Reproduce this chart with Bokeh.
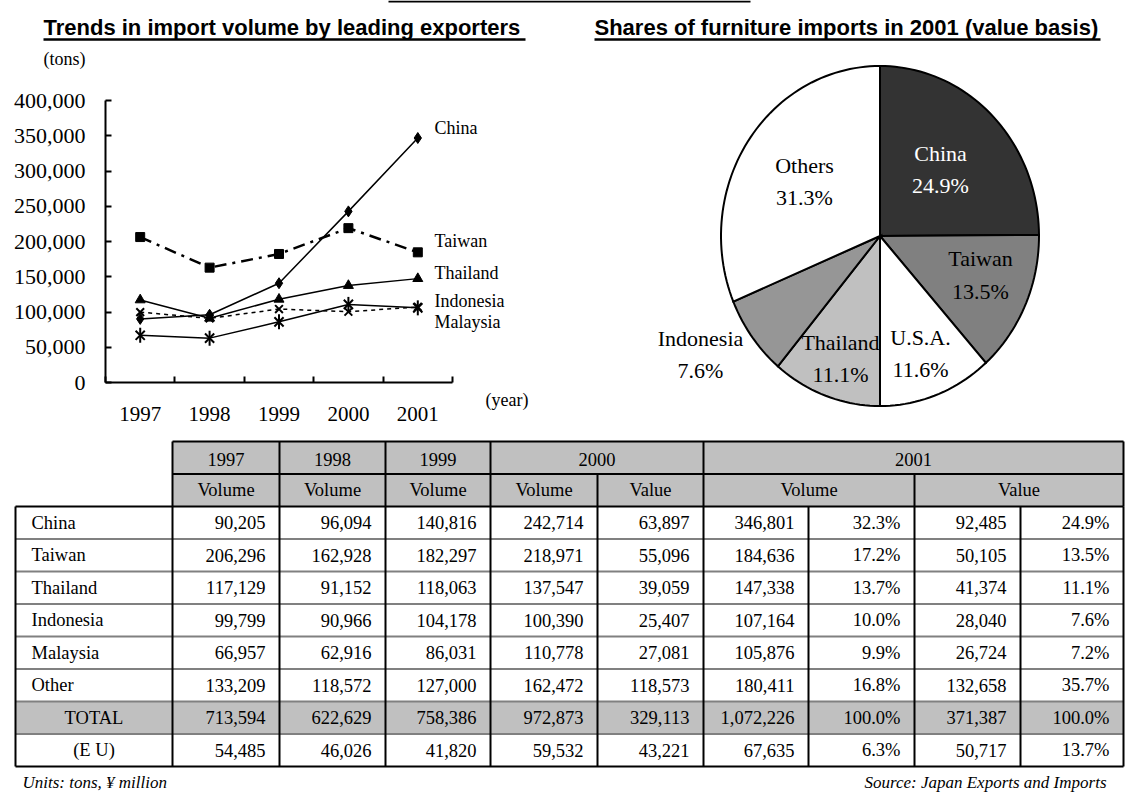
import math
from bokeh.plotting import figure
from bokeh.models import Range1d, FixedTicker, NumeralTickFormatter, LinearAxis, ColumnDataSource
from bokeh.core.properties import value
from bokeh.embed import file_html
from bokeh.resources import INLINE

# ---------------- data ----------------
years = [1997, 1998, 1999, 2000, 2001]

row_labels = ["China", "Taiwan", "Thailand", "Indonesia", "Malaysia", "Other", "TOTAL", "(E U)"]
vol_1997 = [90205, 206296, 117129, 99799, 66957, 133209, 713594, 54485]
vol_1998 = [96094, 162928, 91152, 90966, 62916, 118572, 622629, 46026]
vol_1999 = [140816, 182297, 118063, 104178, 86031, 127000, 758386, 41820]
vol_2000 = [242714, 218971, 137547, 100390, 110778, 162472, 972873, 59532]
val_2000 = [63897, 55096, 39059, 25407, 27081, 118573, 329113, 43221]
vol_2001 = [346801, 184636, 147338, 107164, 105876, 180411, 1072226, 67635]
vol_share_2001 = [32.3, 17.2, 13.7, 10.0, 9.9, 16.8, 100.0, 6.3]
val_2001 = [92485, 50105, 41374, 28040, 26724, 132658, 371387, 50717]
val_share_2001 = [24.9, 13.5, 11.1, 7.6, 7.2, 35.7, 100.0, 13.7]

header_years = ["1997", "1998", "1999", "2000", "2001"]
header_kinds = ["Volume", "Volume", "Volume", "Volume", "Value", "Volume", "Value"]

pie_labels = ["China", "Taiwan", "U.S.A.", "Thailand", "Indonesia", "Others"]
pie_shares = [24.9, 13.5, 11.6, 11.1, 7.6, 31.3]
pie_colors = ["#333333", "#808080", "#ffffff", "#c0c0c0", "#969696", "#ffffff"]

y_ticks = [0, 50000, 100000, 150000, 200000, 250000, 300000, 350000, 400000]

SERIF = "Liberation Serif"
SANS = "Liberation Sans"
W, H = 1125, 799

# volumes per exporter over the five years, taken from the table columns
volume_columns = [vol_1997, vol_1998, vol_1999, vol_2000, vol_2001]
def series(i):
    return [col[i] for col in volume_columns]

# ---------------- page / chart geometry ----------------
# plotting box of the line chart on the page (px from top-left)
FL, FR, FT, FB = 105, 452, 100, 382
X0, X1 = years[0] - 0.5, years[-1] + 0.5
Y0, Y1 = y_ticks[0], y_ticks[-1]

def lx(px):
    return X0 + (px - FL) * (X1 - X0) / (FR - FL)

def ly(py):
    return Y1 - (py - FT) * (Y1 - Y0) / (FB - FT)

def gy(py):
    # page y (from top) -> "pg" range value (from bottom)
    return H - py

# pie ellipse on the page
PIE_CX, PIE_CY, PIE_RX, PIE_RY = 879.5, 235.5, 159, 170

p = figure(width=W, height=H, x_range=Range1d(lx(0), lx(W)), y_range=Range1d(ly(H), ly(0)),
           min_border=0, x_axis_type=None, y_axis_type=None,
           output_backend="svg", toolbar_location=None)
p.extra_x_ranges = {
    "px": Range1d(0, W),
    "pie_x": Range1d((0 - PIE_CX) / PIE_RX, (W - PIE_CX) / PIE_RX),
}
p.extra_y_ranges = {
    "pg": Range1d(0, H),
    "pie_y": Range1d((PIE_CY - H) / PIE_RY, PIE_CY / PIE_RY),
}
p.grid.visible = False
p.outline_line_color = None
p.background_fill_color = "white"
p.border_fill_color = "white"

PG = dict(x_range_name="px", y_range_name="pg")

# ---------------- line chart axes ----------------
xa = LinearAxis(fixed_location=Y0, bounds=(X0, X1))
xa.ticker = FixedTicker(ticks=years, minor_ticks=[y - 0.5 for y in years] + [years[-1] + 0.5])
xa.major_tick_in = 0
xa.major_tick_out = 0
xa.minor_tick_in = 6
xa.minor_tick_out = 0
xa.minor_tick_line_color = "black"
xa.minor_tick_line_width = 2
xa.axis_line_width = 2
xa.axis_line_color = "black"
xa.major_label_text_font = SERIF
xa.major_label_text_font_size = "21px"
xa.major_label_text_color = "black"
xa.major_label_standoff = 24
p.add_layout(xa, "below")

ya = LinearAxis(fixed_location=X0, bounds=(Y0, Y1))
ya.ticker = FixedTicker(ticks=y_ticks)
ya.formatter = NumeralTickFormatter(format="0,0")
ya.major_tick_in = 6
ya.major_tick_out = 0
ya.major_tick_line_width = 2
ya.minor_tick_line_color = None
ya.axis_line_width = 2
ya.axis_line_color = "black"
ya.major_label_text_font = SERIF
ya.major_label_text_font_size = "22px"
ya.major_label_text_color = "black"
ya.major_label_standoff = 20
p.add_layout(ya, "left")

# ---------------- line chart series ----------------
china, taiwan, thailand, indonesia, malaysia = (series(i) for i in range(5))

p.line(years, taiwan, line_color="black", line_width=2.5, line_dash="12 6 3 6")
p.scatter(years, taiwan, marker="square", size=9, fill_color="black", line_color="black")

p.line(years, indonesia, line_color="black", line_width=1.5, line_dash="4 4")
p.scatter(years, indonesia, marker="x", size=11, line_color="black", line_width=2)

p.line(years, malaysia, line_color="black", line_width=1.5)
p.scatter(years, malaysia, marker="x", size=13, line_color="black", line_width=2)
p.scatter(years, malaysia, marker="dash", angle=math.pi / 2, size=15, line_color="black", line_width=2)

p.line(years, thailand, line_color="black", line_width=1.5)
p.scatter(years, thailand, marker="triangle", size=10, fill_color="black", line_color="black")

p.line(years, china, line_color="black", line_width=1.5)
p.scatter(years, china, marker="diamond", size=11, fill_color="black", line_color="black")

def page_text(xs, ys, texts, size, font=SERIF, style="normal", align="left", color="black"):
    p.text(x=xs, y=[gy(v) for v in ys], text=texts, text_font=value(font), text_font_size=size,
           text_font_style=style, text_align=align, text_baseline="middle", text_color=color, **PG)

series_label_y = [127, 240, 272, 300, 321]
page_text([434] * 5, series_label_y, row_labels[:5], "18px")
page_text([485], [399], ["(year)"], "18px")
page_text([43], [58], ["(tons)"], "18px")

# ---------------- titles ----------------
page_text([43], [27], ["Trends in import volume by leading exporters"], "22px", font=SANS, style="bold")
page_text([594], [27], ["Shares of furniture imports in 2001 (value basis)"], "22px", font=SANS, style="bold")
p.multi_line(xs=[[43, 525], [594, 1100], [388, 750]], ys=[[gy(39)] * 2, [gy(39)] * 2, [gy(1)] * 2],
             line_color="black", line_width=[2.5, 2.5, 2], **PG)

# ---------------- pie chart (unit circle, stretched by the pie ranges) ----------------
total_share = sum(pie_shares)
slice_xs, slice_ys = [], []
acc = 0.0
for s in pie_shares:
    a0 = 2 * math.pi * acc / total_share
    acc += s
    a1 = 2 * math.pi * acc / total_share
    n = max(8, int(s * 2))
    angs = [a0 + (a1 - a0) * k / n for k in range(n + 1)]
    slice_xs.append([0.0] + [math.sin(a) for a in angs])
    slice_ys.append([0.0] + [math.cos(a) for a in angs])
pie_src = ColumnDataSource(dict(xs=slice_xs, ys=slice_ys, color=pie_colors))
p.patches(xs="xs", ys="ys", fill_color="color", line_color="black", line_width=2,
          line_join="miter", source=pie_src, x_range_name="pie_x", y_range_name="pie_y")

# label anchors for each slice (page px): x, name line y, percentage line y
pie_label_pos = [(940, 153, 185), (980, 258, 291), (920, 337, 369),
                 (840, 342, 374), (700, 338, 370), (804, 165, 197)]
lab_x, lab_y, lab_t, lab_c = [], [], [], []
for name, share, color, (px, pa, pb) in zip(pie_labels, pie_shares, pie_colors, pie_label_pos):
    txt_color = "white" if color == "#333333" else "black"
    lab_x += [px, px]
    lab_y += [pa, pb]
    lab_t += [name, f"{share:.1f}%"]
    lab_c += [txt_color, txt_color]
page_text(lab_x, lab_y, lab_t, "22px", align="center", color=lab_c)

# ---------------- table ----------------
col_edges = [15, 172, 279, 385, 490, 597, 703, 808, 914, 1020, 1123]
row_edges = [441, 473.5, 506, 538.5, 571, 603.5, 636, 668.5, 701, 733.5, 766]
GRAY = "#c0c0c0"

# shaded header block and TOTAL row
p.quad(left=[col_edges[1], col_edges[0]], right=[col_edges[-1], col_edges[-1]],
       top=[gy(row_edges[0]), gy(row_edges[8])], bottom=[gy(row_edges[2]), gy(row_edges[9])],
       fill_color=GRAY, line_color=None, **PG)

# header spans (column index ranges)
h1_spans = [(1, 2), (2, 3), (3, 4), (4, 6), (6, 10)]
h2_spans = [(1, 2), (2, 3), (3, 4), (4, 5), (5, 6), (6, 8), (8, 10)]

xs, ys, cols, widths = [], [], [], []
def seg(x0, y0, x1, y1, c="black", w=2):
    xs.append([x0, x1]); ys.append([gy(y0), gy(y1)]); cols.append(c); widths.append(w)

seg(col_edges[1], row_edges[0], col_edges[-1], row_edges[0])
seg(col_edges[1], row_edges[1], col_edges[-1], row_edges[1])
for a, b in h1_spans:
    seg(col_edges[a], row_edges[0], col_edges[a], row_edges[1])
seg(col_edges[-1], row_edges[0], col_edges[-1], row_edges[1])
for a, b in h2_spans:
    seg(col_edges[a], row_edges[1], col_edges[a], row_edges[2])
seg(col_edges[-1], row_edges[1], col_edges[-1], row_edges[2])
for r in range(3, 10):
    seg(col_edges[0], row_edges[r], col_edges[-1], row_edges[r], c="#808080")
seg(col_edges[0], row_edges[2], col_edges[-1], row_edges[2])
seg(col_edges[0], row_edges[-1], col_edges[-1], row_edges[-1])
for e in col_edges:
    seg(e, row_edges[2], e, row_edges[-1])
p.multi_line(xs=xs, ys=ys, line_color=cols, line_width=widths, **PG)

tx, ty, tt, ta = [], [], [], []
def cell_text(t, x, y, align):
    tx.append(x); ty.append(y); tt.append(t); ta.append(align)

for (a, b), t in zip(h1_spans, header_years):
    cell_text(t, (col_edges[a] + col_edges[b]) / 2, (row_edges[0] + row_edges[1]) / 2 + 2, "center")
for (a, b), t in zip(h2_spans, header_kinds):
    cell_text(t, (col_edges[a] + col_edges[b]) / 2, (row_edges[1] + row_edges[2]) / 2, "center")

body_cols = [vol_1997, vol_1998, vol_1999, vol_2000, val_2000, vol_2001, vol_share_2001,
             val_2001, val_share_2001]
pct_cols = {6, 8}
for r, name in enumerate(row_labels):
    yc = (row_edges[2 + r] + row_edges[3 + r]) / 2
    if name in ("TOTAL", "(E U)"):
        cell_text(name, (col_edges[0] + col_edges[1]) / 2, yc, "center")
    else:
        cell_text(name, col_edges[0] + 16, yc, "left")
    for c, colvals in enumerate(body_cols):
        v = colvals[r]
        t = f"{v:.1f}%" if c in pct_cols else f"{v:,}"
        cell_text(t, col_edges[c + 2] - 14, yc, "right")

p.text(x=tx, y=[gy(v) for v in ty], text=tt, text_align=ta, text_baseline="middle",
       text_font=value(SERIF), text_font_size="18.5px", text_color="black", **PG)

page_text([22], [782], ["Units: tons, \u00a5 million"], "17px", style="italic")
page_text([1106], [782], ["Source: Japan Exports and Imports"], "17px", style="italic", align="right")

open("out.html", "w").write(file_html(p, INLINE))
